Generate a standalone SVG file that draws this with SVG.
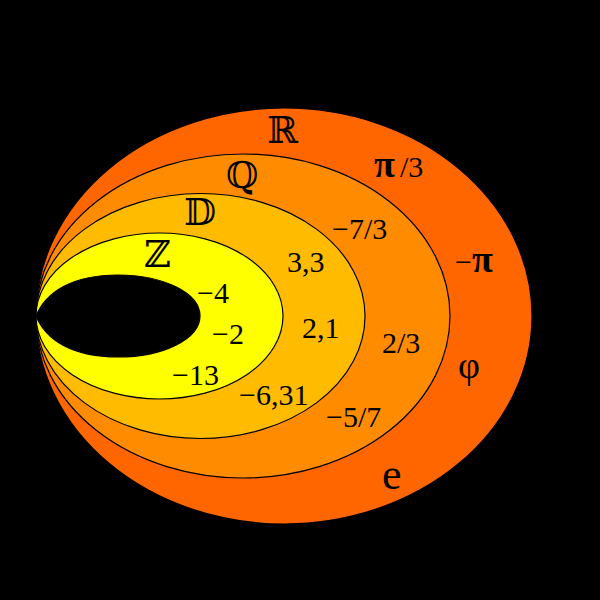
<svg xmlns="http://www.w3.org/2000/svg" width="600" height="600" viewBox="0 0 600 600">
<style>
.set{stroke:#000;stroke-width:1.2}
.num{font-family:"Liberation Serif","Times New Roman",serif;font-size:30px;fill:#000}
.big{font-family:"Liberation Serif","Times New Roman",serif;fill:#000}
.ds{font-family:"DejaVu Serif","DejaVu Sans","Noto Sans",serif;font-size:37px;fill:#000}
</style>
<rect x="0" y="0" width="600" height="600" fill="#000"/>
<g id="R"><ellipse class="set" cx="284" cy="316" rx="248" ry="208" fill="#ff6600"/></g>
<g id="Q"><ellipse class="set" cx="243" cy="316" rx="207" ry="162" fill="#ff8c00"/></g>
<g id="D"><ellipse class="set" cx="200.5" cy="316" rx="164.5" ry="122.5" fill="#ffbb00"/></g>
<g id="Z"><ellipse class="set" cx="159.5" cy="316" rx="123.5" ry="83" fill="#ffff00"/></g>
<g id="N"><path class="set" d="M36,316 C46,292 72,275 118,275 C163,275 200,293 200,316 C200,339 163,357 118,357 C72,357 46,340 36,316 Z" fill="#000"/></g>
<g id="labels">
<text class="ds" x="267" y="143">ℝ</text>
<text class="ds" x="226" y="188">ℚ</text>
<text class="ds" x="184" y="225">𝔻</text>
<text class="ds" x="144" y="267">ℤ</text>
<text class="num" x="197" y="303">−4</text>
<text class="num" x="212" y="344">−2</text>
<text class="num" x="172" y="385">−13</text>
<text class="num" x="239" y="405">−6,31</text>
<text class="num" x="287" y="272">3,3</text>
<text class="num" x="302" y="338">2,1</text>
<text class="num" x="332" y="239">−7/3</text>
<text class="num" x="382" y="353">2/3</text>
<text class="num" x="326" y="427">−5/7</text>
<text class="big" x="374" y="177" font-size="38" font-weight="bold">π</text>
<text class="num" x="400" y="177">/3</text>
<text class="num" x="455" y="272">−</text>
<text class="big" x="472" y="272" font-size="38" font-weight="bold">π</text>
<text class="big" x="458" y="378" font-size="38">φ</text>
<text class="big" x="382" y="489" font-size="44">e</text>
</g>
</svg>
